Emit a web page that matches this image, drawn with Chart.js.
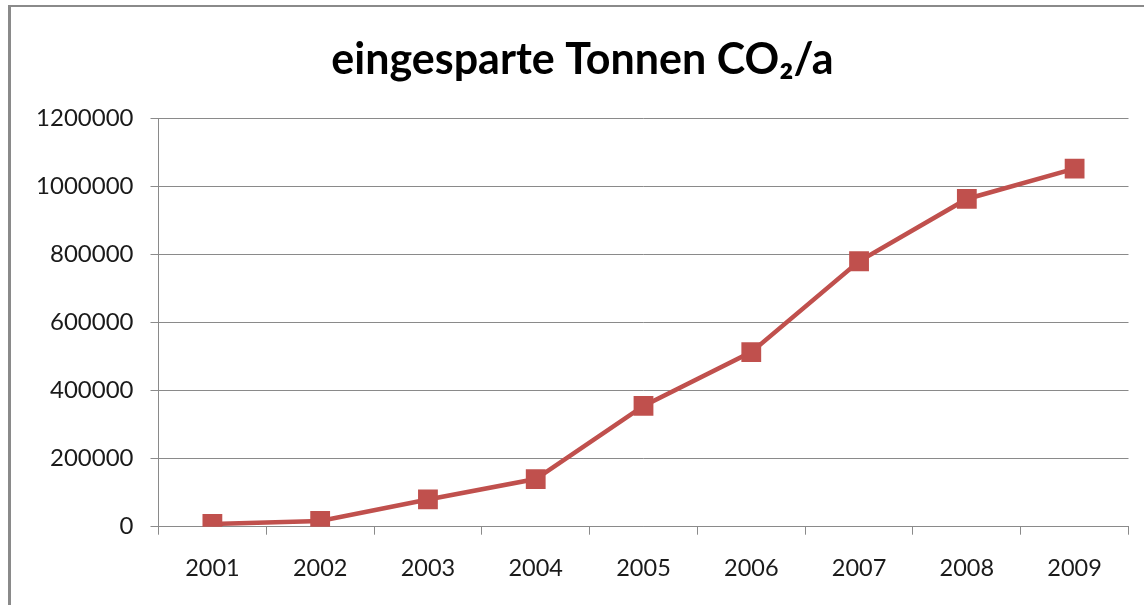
<!DOCTYPE html>
<html>
<head>
<meta charset="utf-8">
<script src="https://cdn.jsdelivr.net/npm/chart.js@4"></script>
<style>
  html, body { margin: 0; padding: 0; background: #fff; overflow: hidden; width: 1144px; height: 605px; }
  #wrap { position: absolute; left: 0; top: 0; width: 1165px; height: 605px; }
  #frame { position: absolute; left: 8px; top: 5px; width: 1200px; height: 700px;
           border-left: 3px solid #8a8a8a; border-top: 2px solid #8a8a8a; pointer-events: none; }
</style>
</head>
<body>
<div id="wrap"><canvas id="c" width="1165" height="605"></canvas></div>
<div id="frame"></div>
<script>
const titleText = "eingesparte Tonnen CO\u2082/a";
const years = ["2001", "2002", "2003", "2004", "2005", "2006", "2007", "2008", "2009"];
const savedTonnes = [8000, 17000, 80000, 140000, 355000, 513000, 780000, 963000, 1052000];
const yMin = 0;
const yMax = 1200000;
const yStep = 200000;

const FONT = "Lato, 'Open Sans', sans-serif";

new Chart(document.getElementById('c'), {
  type: 'line',
  data: {
    labels: years,
    datasets: [{
      data: savedTonnes,
      borderColor: '#C0504D',
      backgroundColor: '#C0504D',
      borderWidth: 4.5,
      tension: 0,
      pointStyle: 'rect',
      pointRadius: 14,
      pointHoverRadius: 14,
      pointBorderWidth: 0,
      pointBackgroundColor: '#C0504D'
    }]
  },
  options: {
    responsive: false,
    animation: false,
    devicePixelRatio: 1,
    layout: { padding: { left: 36.5, right: 36.5, top: 0, bottom: 0 } },
    plugins: {
      legend: { display: false },
      tooltip: { enabled: false },
      title: {
        display: true,
        text: titleText,
        color: '#000',
        font: { family: FONT, size: 43, weight: 'bold', lineHeight: 1.2 },
        padding: { top: 34, bottom: 32.7 }
      }
    },
    scales: {
      x: {
        type: 'category',
        offset: true,
        grid: {
          display: true,
          offset: true,
          drawOnChartArea: false,
          drawTicks: true,
          tickLength: 8,
          color: '#8a8a8a',
          lineWidth: 1
        },
        border: { display: true, color: '#8a8a8a', width: 1 },
        ticks: {
          color: '#1a1a1a',
          font: { family: FONT, size: 23.5 },
          padding: 20,
          maxRotation: 0,
          autoSkip: false
        },
        afterFit: (s) => { s.height = 78.3; }
      },
      y: {
        min: yMin,
        max: yMax,
        grid: {
          color: '#8a8a8a',
          lineWidth: 1,
          drawTicks: true,
          tickLength: 8
        },
        border: { display: true, color: '#8a8a8a', width: 1 },
        ticks: {
          stepSize: yStep,
          color: '#1a1a1a',
          font: { family: FONT, size: 24 },
          padding: 17,
          callback: (v) => String(v)
        },
        afterFit: (s) => { s.width = 122; }
      }
    }
  }
});
</script>
</body>
</html>
